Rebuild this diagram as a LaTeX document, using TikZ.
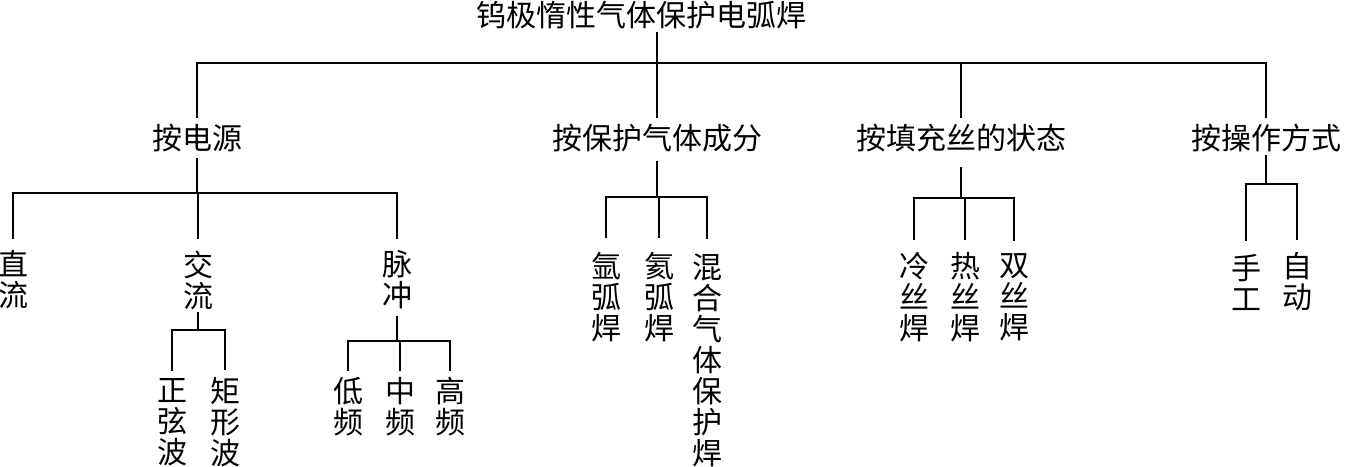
\documentclass[tikz,border=0pt]{standalone}
\usepackage{fontspec}
\newfontfamily\cjk{Noto Sans CJK SC}
\usetikzlibrary{calc}

\begin{document}
\begin{tikzpicture}[x=0.5pt,y=-0.5pt,
  lbl/.style={font=\cjk\fontsize{15}{15.5}\selectfont, inner sep=0pt, align=center},
  link/.style={line width=1pt}]
\useasboundingbox (0,0) rectangle (1347,466);

%root and groups
\node[lbl] (root) at (641,15) {钨极惰性气体保护电弧焊};
\node[lbl] (src) at (197,138) {按电源};
\node[lbl] (gas) at (657,138) {按保护气体成分};
\node[lbl] (fill) at (961,138) {按填充丝的状态};
\node[lbl] (mode) at (1266,138) {按操作方式};

%power source
\node[lbl] (dc) at (13,280) {直\\流};
\node[lbl] (ac) at (198,280) {交\\流};
\node[lbl] (pulse) at (397,280) {脉\\冲};
\node[lbl] (sine) at (172,422) {正\\弦\\波};
\node[lbl] (square) at (225,422) {矩\\形\\波};
\node[lbl] (low) at (348,407) {低\\频};
\node[lbl] (mid) at (400,407) {中\\频};
\node[lbl] (high) at (450,407) {高\\频};

%shielding gas
\node[lbl] (ar) at (606,297) {氩\\弧\\焊};
\node[lbl] (he) at (659,297) {氦\\弧\\焊};
\node[lbl] (mix) at (707,360) {混\\合\\气\\体\\保\\护\\焊};

%filler wire
\node[lbl] (cold) at (914,297) {冷\\丝\\焊};
\node[lbl] (hot) at (965,297) {热\\丝\\焊};
\node[lbl] (twin) at (1014,297) {双\\丝\\焊};

%operation
\node[lbl] (man) at (1246,282) {手\\工};
\node[lbl] (auto) at (1297,282) {自\\动};

%top level
\coordinate (topbar) at (655,63);
\draw[link, shorten <=1.5pt, shorten >=3pt] (root.south -| gas.north) -- (gas.north);
\draw[link, shorten <=3pt, shorten >=3pt] (src.north) |- (topbar) -| (mode.north);
\draw[link, shorten <=3pt] (fill.north) -- (fill.north |- topbar);

%power source
\coordinate (srcbar) at (201,193);
\draw[link, shorten <=3pt] (src.south) -- (src.south |- srcbar);
\draw[link, shorten <=5.5pt, shorten >=5.5pt] (dc.north) |- (srcbar) -| (pulse.north);
\draw[link, shorten <=5.5pt] (ac.north) -- (ac.north |- srcbar);

\coordinate (acbar) at (202,330);
\draw[link, shorten <=1pt] (ac.south) -- (ac.south |- acbar);
\draw[link, shorten <=3.5pt, shorten >=3.5pt] (sine.north) |- (acbar) -| (square.north);

\coordinate (pulsebar) at (400,341);
\draw[link, shorten <=3pt] (pulse.south) -- (pulse.south |- pulsebar);
\draw[link, shorten <=3pt, shorten >=3pt] (low.north) |- (pulsebar) -| (high.north);
\draw[link, shorten <=3pt] (mid.north) -- (mid.north |- pulsebar);

%shielding gas
\coordinate (gasbar) at (659,197);
\draw[link, shorten <=4.5pt] (gas.south) -- (gas.south |- gasbar);
\draw[link, shorten <=7pt, shorten >=7pt] (ar.north) |- (gasbar) -| (mix.north);
\draw[link, shorten <=7pt] (he.north) -- (he.north |- gasbar);

%filler wire
\coordinate (fillbar) at (965,198);
\draw[link, shorten <=7.5pt] (fill.south) -- (fill.south |- fillbar);
\draw[link, shorten <=6pt, shorten >=6pt] (cold.north) |- (fillbar) -| (twin.north);
\draw[link, shorten <=6pt] (hot.north) -- (hot.north |- fillbar);

%operation
\coordinate (modebar) at (1267,184);
\draw[link, shorten <=1.5pt] (mode.south) -- (mode.south |- modebar);
\draw[link, shorten <=6pt, shorten >=6pt] (man.north) |- (modebar) -| (auto.north);

\end{tikzpicture}
\end{document}
